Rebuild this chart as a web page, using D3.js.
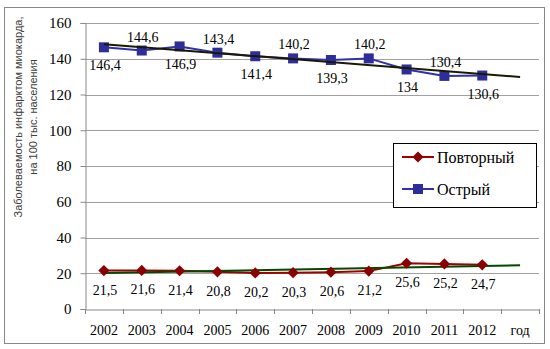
<!DOCTYPE html>
<html><head><meta charset="utf-8">
<script src="https://cdn.jsdelivr.net/npm/d3@7"></script>
</head><body style="margin:0"><svg id="c" width="550" height="349" style="font-family:'Liberation Serif',serif"></svg>
<script>
const categories = ["2002","2003","2004","2005","2006","2007","2008","2009","2010","2011","2012","год"];
const years = ["2002","2003","2004","2005","2006","2007","2008","2009","2010","2011","2012"];
const acute = [146.4,144.6,146.9,143.4,141.4,140.2,139.3,140.2,134,130.4,130.6];
const repeat = [21.5,21.6,21.4,20.8,20.2,20.3,20.6,21.2,25.6,25.2,24.7];
const acuteLabelPos = ["b","a","b","a","b","a","b","a","b","a","b"];
const yTicks = [0,20,40,60,80,100,120,140,160];
const seriesNames = ["Повторный","Острый"];

const SERIF = '"Liberation Serif"';
const SANS = '"Liberation Sans"';

const svg = d3.select("#c");
svg.append("rect").attr("x",4.5).attr("y",7.5).attr("width",540).attr("height",336)
  .attr("fill","#fff").attr("stroke","#888");

const x = d3.scaleBand().domain(categories).range([85,539]).padding(0);
const y = d3.scaleLinear().domain([0,160]).range([309,23]);
const cx = d => x(d) + x.bandwidth()/2;

// gridlines
svg.append("g").selectAll("line").data(yTicks.filter(t=>t>0)).join("line")
  .attr("x1",85).attr("x2",539).attr("y1",d=>Math.round(y(d))+0.5).attr("y2",d=>Math.round(y(d))+0.5)
  .attr("stroke","#a0a0a0");

// y axis
const ya = svg.append("g").attr("transform","translate(85.5,0)")
  .call(d3.axisLeft(y).tickValues(yTicks).tickSize(5).tickPadding(9).tickFormat(d3.format("d")));
ya.attr("font-family",SERIF).attr("font-size",15);
ya.select(".domain").attr("stroke","#888");
ya.selectAll(".tick line").attr("stroke","#888");
ya.selectAll("text").style("font-family",SERIF).style("font-size","15px").attr("fill","#000");

// x axis
const xa = svg.append("g").attr("transform","translate(0,309.5)")
  .call(d3.axisBottom(x).tickSize(0).tickPadding(16));
xa.attr("font-family",SERIF).attr("font-size",14);
xa.select(".domain").attr("stroke","#888");
xa.selectAll("text").style("font-family",SERIF).style("font-size","14px").attr("fill","#000");
svg.append("g").selectAll("line").data(categories.concat([null])).join("line")
  .attr("x1",(d,i)=>Math.round(i<categories.length? x(d): x.range()[1])+0.5)
  .attr("x2",(d,i)=>Math.round(i<categories.length? x(d): x.range()[1])+0.5)
  .attr("y1",309).attr("y2",314).attr("stroke","#888");

// y title
const yt = svg.append("text").attr("transform","translate(22,117) rotate(-90)")
  .attr("text-anchor","middle").style("font-family",SANS).style("font-size","11px").attr("fill","#404040");
yt.append("tspan").attr("x",0).attr("dy",0).text("Заболеваемость инфарктом миокарда,");
yt.append("tspan").attr("x",0).attr("dy",15).text("на 100 тыс. населения");

// series lines
const line = d3.line().x((d,i)=>cx(years[i])).y(d=>y(d));
svg.append("path").datum(repeat).attr("d",line).attr("fill","none").attr("stroke","#a00000").attr("stroke-width",2);
svg.append("path").datum(acute).attr("d",line).attr("fill","none").attr("stroke","#3030b0").attr("stroke-width",2);

// linear trend lines (least squares), extended one period forward
function trend(vals){
  const n = vals.length, xs = vals.map((v,i)=>i+1);
  const mx = d3.mean(xs), my = d3.mean(vals);
  const b = d3.sum(xs.map((xx,i)=>(xx-mx)*(vals[i]-my))) / d3.sum(xs.map(xx=>(xx-mx)**2));
  const a = my - b*mx;
  return [[cx(categories[0]), y(a+b*1)], [cx(categories[categories.length-1]), y(a+b*(n+1))]];
}
const tl = d3.line();
svg.append("path").attr("d",tl(trend(repeat))).attr("stroke","#004a00").attr("stroke-width",2).attr("fill","none");

// markers
svg.append("g").selectAll("path").data(repeat).join("path")
  .attr("d",d3.symbol().type(d3.symbolDiamond2).size(80))
  .attr("transform",(d,i)=>`translate(${cx(years[i])},${y(d)})`).attr("fill","#8b0000");
svg.append("g").selectAll("rect").data(acute).join("rect")
  .attr("x",(d,i)=>cx(years[i])-5).attr("y",d=>y(d)-5).attr("width",10).attr("height",10).attr("fill","#2e2e9a");

svg.append("path").attr("d",tl(trend(acute))).attr("stroke","#1a1a00").attr("stroke-width",2).attr("fill","none");

const fmt = v => String(v).replace(".",",");
// data labels
svg.append("g").selectAll("text").data(acute).join("text")
  .attr("x",(d,i)=>cx(years[i])+1).attr("y",(d,i)=>y(d)+(acuteLabelPos[i]==="a"? -9 : 23))
  .attr("text-anchor","middle").style("font-family",SERIF).style("font-size","14px").attr("fill","#000").text(fmt);
svg.append("g").selectAll("text").data(repeat).join("text")
  .attr("x",(d,i)=>cx(years[i])+1).attr("y",d=>y(d)+24)
  .attr("text-anchor","middle").style("font-family",SERIF).style("font-size","14px").attr("fill","#000").text(fmt);

// legend
const lg = svg.append("g");
lg.append("rect").attr("x",393.5).attr("y",143.5).attr("width",143).attr("height",64).attr("fill","#fff").attr("stroke","#000");
const ly = [157,189];
const lc = [{line:"#a00000",fill:"#8b0000",sym:"d"},{line:"#3030b0",fill:"#2e2e9a",sym:"s"}];
seriesNames.forEach((nm,i)=>{
  lg.append("line").attr("x1",402).attr("x2",434).attr("y1",ly[i]).attr("y2",ly[i]).attr("stroke",lc[i].line).attr("stroke-width",2);
  if(lc[i].sym==="d") lg.append("path").attr("d",d3.symbol().type(d3.symbolDiamond2).size(80)).attr("transform",`translate(418,${ly[i]})`).attr("fill",lc[i].fill);
  else lg.append("rect").attr("x",413).attr("y",ly[i]-5).attr("width",10).attr("height",10).attr("fill",lc[i].fill);
  lg.append("text").attr("x",437).attr("y",ly[i]+6).style("font-family",SERIF).style("font-size","16px").attr("fill","#000").text(nm);
});
</script></body></html>
